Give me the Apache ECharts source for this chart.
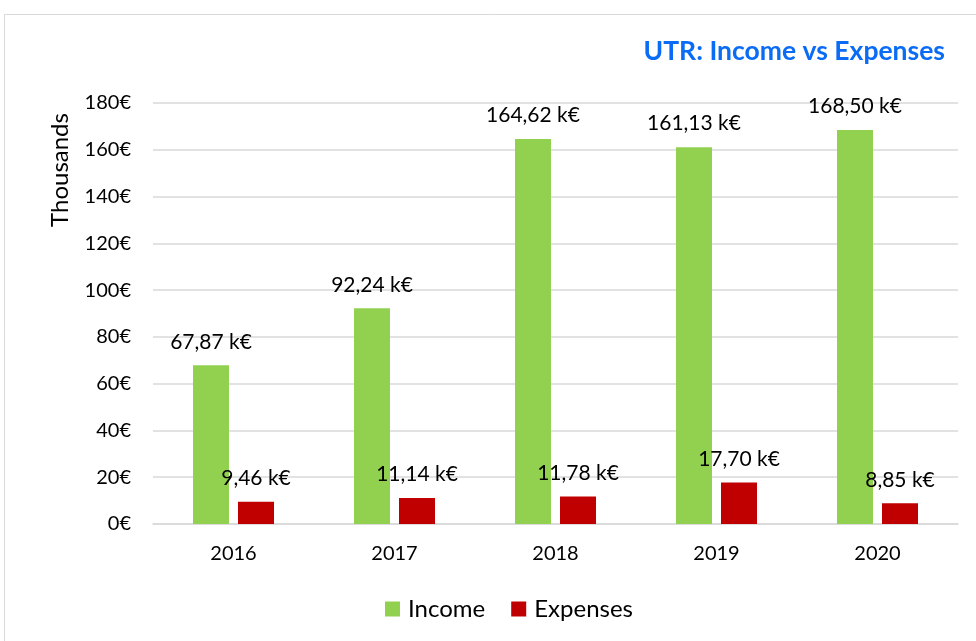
<!DOCTYPE html>
<html><head><meta charset="utf-8">
<script src="https://cdn.jsdelivr.net/npm/echarts@6/dist/echarts.min.js"></script>
<style>html,body{margin:0;padding:0;background:#fff}#c{width:976px;height:641px}</style>
</head><body><div id="c"></div>
<script>
var years = ['2016','2017','2018','2019','2020'];
var income = [67.87, 92.24, 164.62, 161.13, 168.50];
var expenses = [9.46, 11.14, 11.78, 17.70, 8.85];
var yTicks = [0, 20, 40, 60, 80, 100, 120, 140, 160, 180];
var FONT = 'Lato, "Open Sans", sans-serif';
function lbl(p){ return p.value.toFixed(2).replace('.', ',') + ' k€'; }
var chart = echarts.init(document.getElementById('c'));
chart.setOption({
  animation:false,
  textStyle:{fontFamily:FONT},
  title:{text:'UTR: Income vs Expenses', right:26, top:33,
    textStyle:{color:'#0a6cf5', fontSize:26.5, fontWeight:'bold', fontFamily:FONT}},
  graphic:[
    {type:'rect', shape:{x:4.5,y:14.5,width:1100,height:800}, style:{fill:'none',stroke:'#d9d9d9',lineWidth:1}, silent:true},
    {type:'text', x:60, y:170, rotation:Math.PI/2, style:{text:'Thousands', font:'24px '+FONT, fill:'#000', textAlign:'center', textVerticalAlign:'middle'}}
  ],
  legend:{bottom:15, left:380, itemWidth:15, itemHeight:15, itemGap:26, icon:'rect',
    textStyle:{fontSize:24, color:'#000', fontFamily:FONT, padding:[0,0,0,3]}, data:['Income','Expenses']},
  grid:{left:153, right:18, top:103, bottom:117, containLabel:false},
  xAxis:{type:'category', data:years,
    axisLine:{lineStyle:{color:'#d9d9d9', width:1.5}}, axisTick:{show:false},
    axisLabel:{color:'#000', fontSize:20, margin:20, fontFamily:FONT}},
  yAxis:{type:'value', min:yTicks[0], max:yTicks[yTicks.length-1], interval:20,
    axisLine:{show:false}, axisTick:{show:false},
    splitLine:{lineStyle:{color:'#d9d9d9', width:1.5}},
    axisLabel:{formatter:'{value}€', color:'#000', fontSize:20, margin:22, fontFamily:FONT}},
  series:[
    {name:'Income', type:'bar', data:income, barWidth:36, barGap:'25%',
      itemStyle:{color:'#92d050'},
      label:{show:true, position:'top', distance:13, formatter:lbl, color:'#000', fontSize:21, fontFamily:FONT}},
    {name:'Expenses', type:'bar', data:expenses, barWidth:36, barGap:'25%',
      itemStyle:{color:'#c00000'},
      label:{show:true, position:'top', distance:13, formatter:lbl, color:'#000', fontSize:21, fontFamily:FONT}}
  ]
});
</script></body></html>
